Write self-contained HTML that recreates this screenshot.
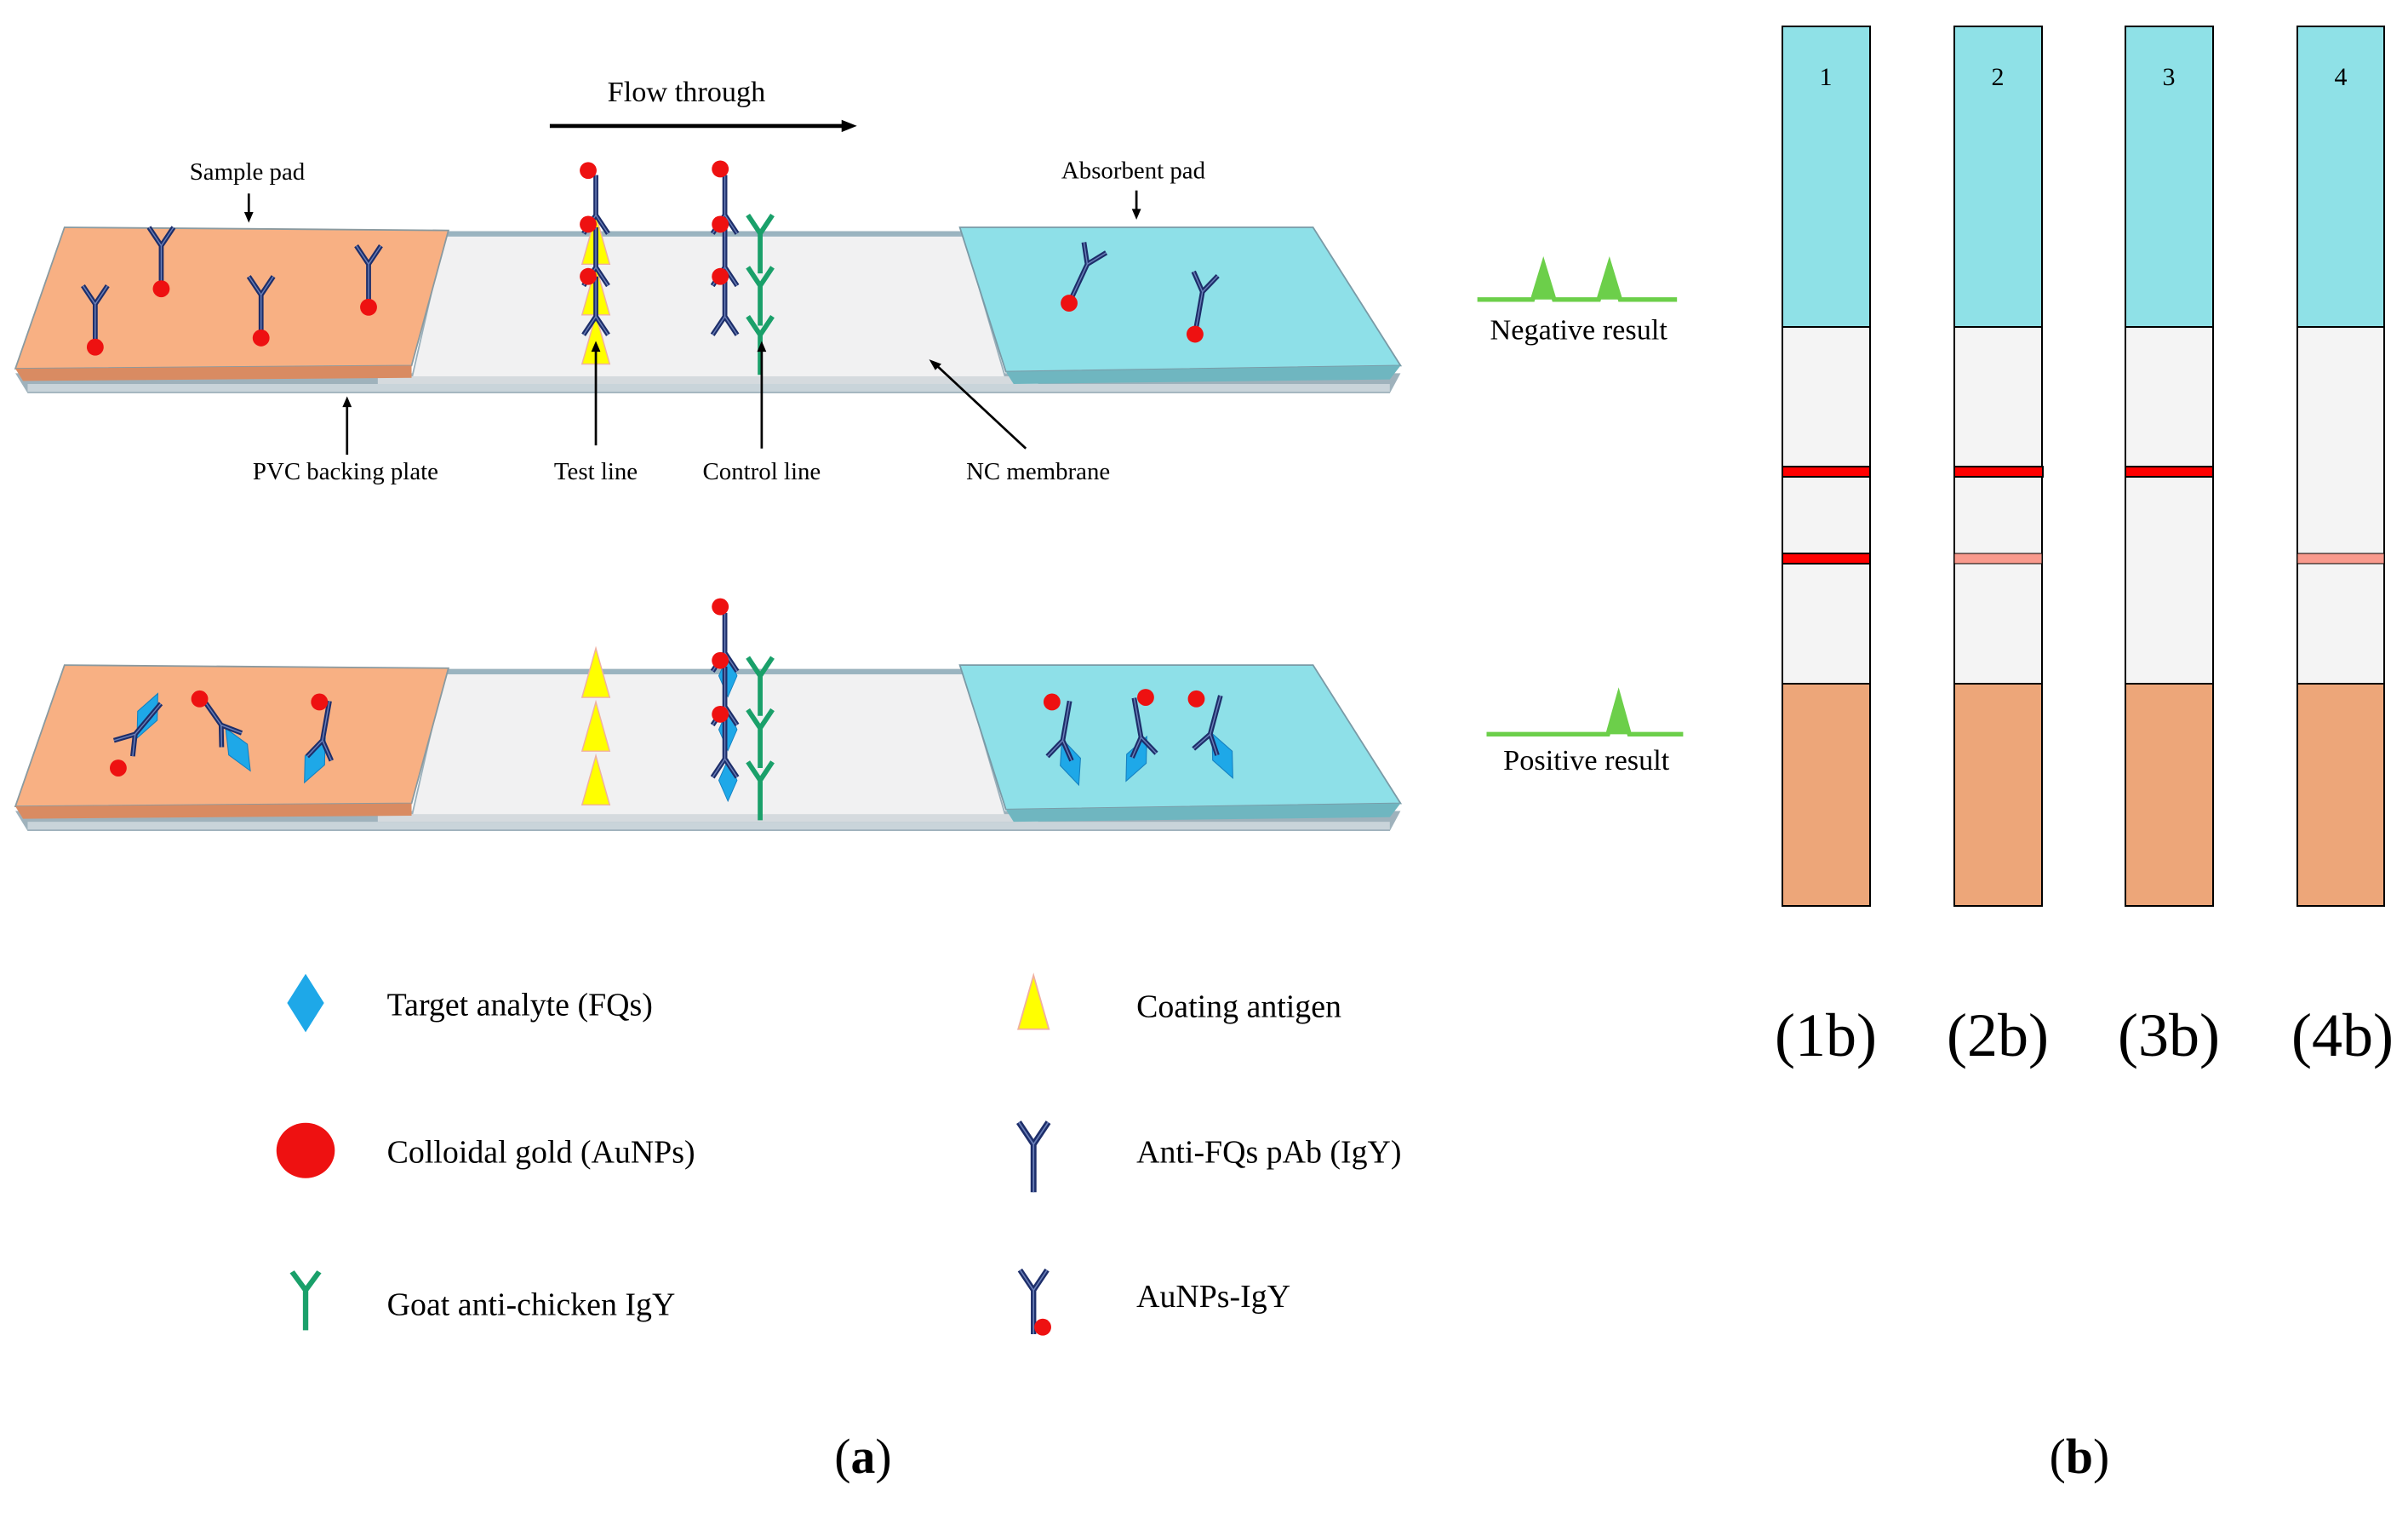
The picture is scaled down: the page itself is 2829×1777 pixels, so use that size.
<!DOCTYPE html>
<html><head><meta charset="utf-8"><style>
html,body{margin:0;padding:0;background:#fff;}
svg{display:block;}
text{font-family:"Liberation Serif",serif;fill:#000;}
</style></head><body>
<svg width="2829" height="1777" viewBox="0 0 1568 985" preserveAspectRatio="none" xmlns="http://www.w3.org/2000/svg">
<defs>
<g id="ab"><path d="M0 26 V0 M0 0 L-8 -12 M0 0 L8 -12" stroke="#1d2e6a" stroke-width="3.2" fill="none"/><path d="M0 26 V0 M0 0 L-8 -12 M0 0 L8 -12" stroke="#6a7fb8" stroke-width="0.8" fill="none"/></g>
<g id="gab"><path d="M0 26 V0 M0 0 L-8 -12 M0 0 L8 -12" stroke="#1aa06a" stroke-width="3.2" fill="none"/></g>
<g id="abg"><use href="#ab"/><circle cx="0" cy="28" r="5.5" fill="#ee1111"/></g>
<polygon id="dia" points="0,-16 7,0 0,16 -7,0" fill="#1ea8e8" stroke="#1580c0" stroke-width="0.6"/>
<polygon id="tri" points="0,-16 9,16 -9,16" fill="#ffff00" stroke="#f0b0a0" stroke-width="0.8"/>
<g id="strip">
  <polygon points="10,243 912,243 905,256 18,256" fill="#9fb2bc"/>
  <rect x="18" y="250" width="887" height="5" fill="#c9d4da"/>
  <polygon points="290,151 627,151 655,247 268,247" fill="#f1f1f2" stroke="#9ab0bb" stroke-width="1"/>
  <rect x="290" y="151" width="337" height="3" fill="#9ab4c0"/>
  <rect x="246" y="245" width="430" height="5" fill="#d5dade"/>
  <polygon points="42,148 292,150 268,238 10,240" fill="#f8b083" stroke="#8a9aa0" stroke-width="1"/>
  <polygon points="10,240 268,238 268,246 15,248" fill="#d98b62"/>
  <polygon points="625,148 855,148 912,238 655,242" fill="#8ee0e8" stroke="#7a9aa6" stroke-width="1"/>
  <polygon points="655,242 912,238 905,247 660,250" fill="#6fb6c0"/>
</g>
</defs>

<text x="447" y="66" font-size="19" text-anchor="middle">Flow through</text>
<line x1="358" y1="82" x2="550" y2="82" stroke="#000" stroke-width="2.5"/>
<polygon points="558,82 548,78 548,86" fill="#000"/>

<use href="#strip"/>
<use href="#abg" transform="translate(105,160)"/>
<use href="#abg" transform="translate(62,198)"/>
<use href="#abg" transform="translate(170,192)"/>
<use href="#abg" transform="translate(240,172)"/>
<use href="#abg" transform="translate(708,172) rotate(25)"/>
<use href="#abg" transform="translate(783,190) rotate(10)"/>
<!-- test line top -->
<use href="#tri" transform="translate(388,156)"/>
<use href="#tri" transform="translate(388,189)"/>
<use href="#tri" transform="translate(388,221)"/>
<use href="#ab" transform="translate(388,140) rotate(180)"/>
<use href="#ab" transform="translate(388,174) rotate(180)"/>
<use href="#ab" transform="translate(388,206) rotate(180)"/>
<circle cx="383" cy="111" r="5.5" fill="#ee1111"/>
<circle cx="383" cy="146" r="5.5" fill="#ee1111"/>
<circle cx="383" cy="180" r="5.5" fill="#ee1111"/>
<!-- control line top -->
<use href="#ab" transform="translate(472,140) rotate(180)"/>
<use href="#ab" transform="translate(472,174) rotate(180)"/>
<use href="#ab" transform="translate(472,206) rotate(180)"/>
<circle cx="469" cy="110" r="5.5" fill="#ee1111"/>
<circle cx="469" cy="146" r="5.5" fill="#ee1111"/>
<circle cx="469" cy="180" r="5.5" fill="#ee1111"/>
<use href="#gab" transform="translate(495,152)"/>
<use href="#gab" transform="translate(495,186)"/>
<use href="#gab" transform="translate(495,218)"/>

<text x="161" y="117" font-size="16" text-anchor="middle">Sample pad</text>
<line x1="162" y1="126" x2="162" y2="140" stroke="#000" stroke-width="1.5"/><polygon points="162,145 159,138 165,138"/>
<text x="738" y="116" font-size="16" text-anchor="middle">Absorbent pad</text>
<line x1="740" y1="124" x2="740" y2="138" stroke="#000" stroke-width="1.5"/><polygon points="740,143 737,136 743,136"/>
<text x="225" y="312" font-size="16" text-anchor="middle">PVC backing plate</text>
<line x1="226" y1="296" x2="226" y2="264" stroke="#000" stroke-width="1.5"/><polygon points="226,258 223,265 229,265"/>
<text x="388" y="312" font-size="16" text-anchor="middle">Test line</text>
<line x1="388" y1="290" x2="388" y2="228" stroke="#000" stroke-width="1.5"/><polygon points="388,222 385,229 391,229"/>
<text x="496" y="312" font-size="16" text-anchor="middle">Control line</text>
<line x1="496" y1="292" x2="496" y2="228" stroke="#000" stroke-width="1.5"/><polygon points="496,222 493,229 499,229"/>
<text x="676" y="312" font-size="16" text-anchor="middle">NC membrane</text>
<line x1="668" y1="292" x2="610" y2="238" stroke="#000" stroke-width="1.5"/><polygon points="605,234 613,237 609,241"/>

<path d="M962 195 H998 L1005 172 L1012 195 H1041 L1048 172 L1055 195 H1092" stroke="#6ccf4a" stroke-width="3" fill="none"/>
<polygon points="998,195 1005,172 1012,195" fill="#6ccf4a"/>
<polygon points="1041,195 1048,172 1055,195" fill="#6ccf4a"/>
<text x="1028" y="221" font-size="19" text-anchor="middle">Negative result</text>

<use href="#strip" transform="translate(0,285)"/>
<use href="#tri" transform="translate(388,438)"/>
<use href="#tri" transform="translate(388,473)"/>
<use href="#tri" transform="translate(388,508)"/>
<use href="#dia" transform="translate(474,440) scale(0.85)"/>
<use href="#dia" transform="translate(474,475) scale(0.85)"/>
<use href="#dia" transform="translate(474,508) scale(0.85)"/>
<use href="#ab" transform="translate(472,425) rotate(180)"/>
<use href="#ab" transform="translate(472,460) rotate(180)"/>
<use href="#ab" transform="translate(472,494) rotate(180)"/>
<circle cx="469" cy="395" r="5.5" fill="#ee1111"/>
<circle cx="469" cy="430" r="5.5" fill="#ee1111"/>
<circle cx="469" cy="465" r="5.5" fill="#ee1111"/>
<use href="#gab" transform="translate(495,440)"/>
<use href="#gab" transform="translate(495,474)"/>
<use href="#gab" transform="translate(495,508)"/>
<use href="#dia" transform="translate(96,466) rotate(25)"/>
<use href="#ab" transform="translate(88,478) rotate(220)"/>
<circle cx="77" cy="500" r="5.5" fill="#ee1111"/>
<use href="#dia" transform="translate(155,488) rotate(-30)"/>
<use href="#ab" transform="translate(144,472) rotate(-35) scale(1,-1)"/>
<circle cx="130" cy="455" r="5.5" fill="#ee1111"/>
<use href="#dia" transform="translate(205,495) rotate(25)"/>
<use href="#ab" transform="translate(210,482) scale(1,-1) rotate(-10)"/>
<circle cx="208" cy="457" r="5.5" fill="#ee1111"/>
<use href="#dia" transform="translate(697,496) rotate(-20)"/>
<use href="#ab" transform="translate(692,482) scale(1,-1) rotate(-10)"/>
<circle cx="685" cy="457" r="5.5" fill="#ee1111"/>
<use href="#dia" transform="translate(740,494) rotate(25)"/>
<use href="#ab" transform="translate(743,480) scale(1,-1) rotate(10)"/>
<circle cx="746" cy="454" r="5.5" fill="#ee1111"/>
<use href="#dia" transform="translate(796,492) rotate(-25)"/>
<use href="#ab" transform="translate(788,478) scale(1,-1) rotate(-15)"/>
<circle cx="779" cy="455" r="5.5" fill="#ee1111"/>

<path d="M968 478 H1047 L1054 453 L1061 478 H1096" stroke="#6ccf4a" stroke-width="3" fill="none"/>
<polygon points="1047,478 1054,453 1061,478" fill="#6ccf4a"/>
<text x="1033" y="501" font-size="19" text-anchor="middle">Positive result</text>

<polygon points="199,634 211,653 199,672 187,653" fill="#1ea8e8"/>
<text x="252" y="661" font-size="21">Target analyte (FQs)</text>
<ellipse cx="199" cy="749" rx="19" ry="18" fill="#ee1111"/>
<text x="252" y="757" font-size="21">Colloidal gold (AuNPs)</text>
<use href="#gab" transform="translate(199,840) scale(1.1,1)"/>
<text x="252" y="856" font-size="21">Goat anti-chicken IgY</text>
<polygon points="673,635 683,670 663,670" fill="#ffff00" stroke="#f0b0a0"/>
<text x="740" y="662" font-size="21">Coating antigen</text>
<use href="#ab" transform="translate(673,745) scale(1.2)"/>
<text x="740" y="757" font-size="21">Anti-FQs pAb (IgY)</text>
<use href="#ab" transform="translate(673,840) scale(1.1)"/>
<circle cx="679" cy="864" r="5.5" fill="#ee1111"/>
<text x="740" y="851" font-size="21">AuNPs-IgY</text>

<text x="562" y="959" font-size="32" text-anchor="middle">(<tspan font-weight="bold">a</tspan>)</text>
<text x="1354" y="959" font-size="32" text-anchor="middle">(<tspan font-weight="bold">b</tspan>)</text>
</svg>

<svg width="2829" height="1777" viewBox="0 0 2829 1777" style="position:absolute;left:0;top:0" xmlns="http://www.w3.org/2000/svg">
<g stroke="#000" stroke-width="2">
<g>
<rect x="2094" y="31" width="103" height="353" fill="#8fe1e7"/>
<rect x="2094" y="384" width="103" height="419" fill="#f4f4f4"/>
<rect x="2094" y="803" width="103" height="261" fill="#eda679"/>
<rect x="2094" y="548" width="103" height="12" fill="#ff0000"/>
<rect x="2094" y="650" width="103" height="12" fill="#ff0000"/>
</g>
<g>
<rect x="2296" y="31" width="103" height="353" fill="#8fe1e7"/>
<rect x="2296" y="384" width="103" height="419" fill="#f4f4f4"/>
<rect x="2296" y="803" width="103" height="261" fill="#eda679"/>
<rect x="2296" y="548" width="104" height="12" fill="#ff0000"/>
<rect x="2296" y="650" width="103" height="12" fill="#f99a8d" stroke-width="1"/>
</g>
<g>
<rect x="2497" y="31" width="103" height="353" fill="#8fe1e7"/>
<rect x="2497" y="384" width="103" height="419" fill="#f4f4f4"/>
<rect x="2497" y="803" width="103" height="261" fill="#eda679"/>
<rect x="2497" y="548" width="103" height="12" fill="#ff0000"/>
</g>
<g>
<rect x="2699" y="31" width="102" height="353" fill="#8fe1e7"/>
<rect x="2699" y="384" width="102" height="419" fill="#f4f4f4"/>
<rect x="2699" y="803" width="102" height="261" fill="#eda679"/>
<rect x="2699" y="650" width="102" height="12" fill="#f99a8d" stroke-width="1"/>
</g>
</g>
<g font-family="Liberation Serif, serif" font-size="30" text-anchor="middle">
<text x="2145" y="100">1</text><text x="2347" y="100">2</text><text x="2548" y="100">3</text><text x="2750" y="100">4</text>
</g>
<g font-family="Liberation Serif, serif" font-size="72" text-anchor="middle">
<text x="2145" y="1240">(1b)</text><text x="2347" y="1240">(2b)</text><text x="2548" y="1240">(3b)</text><text x="2752" y="1240">(4b)</text>
</g>
</svg>
</body></html>
